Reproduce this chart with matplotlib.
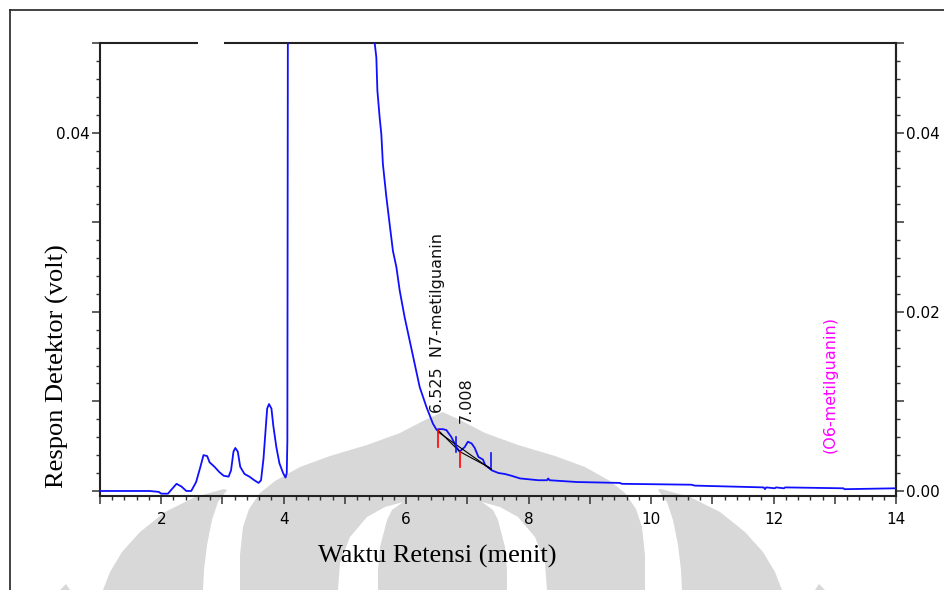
import matplotlib
matplotlib.use('Agg')
import matplotlib.pyplot as plt
from matplotlib.patches import Polygon
from matplotlib.lines import Line2D
from matplotlib.ticker import MultipleLocator, FixedLocator, FuncFormatter

# Chromatogram trace (retention time in minutes, detector response in volts)
time_min = [1.00, 1.81, 1.96, 2.00, 2.11, 2.16, 2.25, 2.33, 2.41, 2.49,
            2.57, 2.64, 2.69, 2.75, 2.79, 2.87, 2.95, 3.02, 3.10, 3.14,
            3.18, 3.21, 3.25, 3.29, 3.36, 3.44, 3.52, 3.59, 3.63, 3.67,
            3.70, 3.73, 3.76, 3.80, 3.83, 3.88, 3.93, 3.99, 4.03, 4.05,
            4.06, 4.08, 4.60, 5.40, 5.486, 5.513, 5.53, 5.567, 5.595, 5.62,
            5.677, 5.73, 5.784, 5.84, 5.894, 5.975, 6.057, 6.139, 6.221, 6.33,
            6.438, 6.50, 6.525, 6.60, 6.657, 6.74, 6.82, 6.874, 6.956, 7.008,
            7.07, 7.12, 7.18, 7.255, 7.29, 7.40, 7.51, 7.61, 7.72, 7.86,
            8.16, 8.30, 8.32, 8.34, 8.79, 9.49, 9.52, 10.66, 10.71, 11.84,
            11.86, 11.88, 12.02, 12.04, 12.17, 12.19, 13.14, 13.16, 14.00]
response_v = [0.0000, 0.0000, -0.0001, -0.0003, -0.0003, 0.0001, 0.0008, 0.0005, 0.0000, 0.0000,
              0.0010, 0.0027, 0.0040, 0.0039, 0.0032, 0.0027, 0.0021, 0.0017, 0.0016, 0.0023,
              0.0044, 0.0048, 0.0044, 0.0027, 0.0019, 0.0016, 0.0012, 0.0009, 0.0012, 0.0036,
              0.0064, 0.0092, 0.0097, 0.0092, 0.0073, 0.0049, 0.0031, 0.0020, 0.0015, 0.0020,
              0.0056, 0.1200, 0.1600, 0.0800, 0.0500, 0.0484, 0.0447, 0.0417, 0.0398, 0.0365,
              0.0328, 0.0298, 0.0268, 0.0250, 0.0224, 0.0194, 0.0168, 0.0142, 0.0116, 0.0094,
              0.0075, 0.0068, 0.0069, 0.0069, 0.0068, 0.0060, 0.0049, 0.0044, 0.0049, 0.0055,
              0.0053, 0.0048, 0.0038, 0.0035, 0.0029, 0.0023, 0.0020, 0.0019, 0.0017, 0.0014,
              0.0012, 0.0012, 0.0014, 0.0012, 0.0010, 0.0009, 0.0008, 0.0007, 0.0006, 0.0004,
              0.0002, 0.0004, 0.0003, 0.0004, 0.0003, 0.0004, 0.0003, 0.0002, 0.0003]

# Integration marks
peak_labels = ['6.525  N7-metilguanin', '7.008']
peak_times = [6.525, 7.008]
red_marks_t = [6.52, 6.874]
red_marks_y = [(0.0049, 0.0068), (0.0027, 0.0044)]
blue_marks_t = [6.82, 7.39]
blue_marks_y = [(0.0044, 0.0060), (0.0027, 0.0042)]
baseline_t = [(6.52, 6.874), (6.874, 7.39), (6.52, 7.39)]
baseline_y = [(0.0068, 0.0044), (0.0044, 0.0025), (0.0066, 0.0024)]
o6_time = 12.92

W, H = 944, 590
fig = plt.figure(figsize=(W / 100, H / 100), dpi=100)
fig.patch.set_facecolor('white')


def px(points):
    return [(x / W, 1 - y / H) for x, y in points]


def mirror(points, xc=442.5):
    return [(2 * xc - x, y) for x, y in points]


# background watermark (light grey arches)
wm = '#d8d8d8'
dome_left = [(240, 590), (240, 555), (243, 527), (249, 509), (260, 493), (275, 481),
             (300, 467), (330, 456), (367, 445), (400, 433), (425, 420), (442.5, 412)]
dome = dome_left + mirror(dome_left)[::-1]
hole_left = [(338, 590), (340, 563), (350, 537), (367, 517), (385, 507), (403, 502),
             (392, 510), (387, 520), (380, 547), (378, 570), (378, 590)]
band_left = [(103, 590), (110, 572), (122, 552), (140, 532), (165, 512), (195, 497),
             (224, 489), (227, 490), (218, 502), (212, 520), (207, 545), (204, 570),
             (203, 590)]
tip_left = [(60, 590), (66, 584), (70, 590)]

for shape, col in [(dome, wm), (hole_left, 'white'), (mirror(hole_left), 'white'),
                   (band_left, wm), (mirror(band_left), wm),
                   (tip_left, wm), (mirror(tip_left), wm)]:
    fig.add_artist(Polygon(px(shape), closed=True, transform=fig.transFigure,
                           facecolor=col, edgecolor='none', zorder=-2))

# outer frame
fig.add_artist(Line2D([10 / W, 10 / W], [0, 1 - 10 / H], transform=fig.transFigure,
                      color='#222222', lw=1.2))
fig.add_artist(Line2D([10 / W, 1], [1 - 10 / H, 1 - 10 / H], transform=fig.transFigure,
                      color='#222222', lw=1.2))

ax = fig.add_axes([100 / W, 1 - 496 / H, 796 / W, 453 / H])
ax.set_facecolor('none')
ax.set_xlim(1, 14)
ax.set_ylim(-0.00056, 0.05)

ax.plot(time_min, response_v, color='#1010ff', lw=1.3, zorder=3)

for (t0, t1), (y0, y1) in zip(baseline_t, baseline_y):
    ax.plot([t0, t1], [y0, y1], color='black', lw=0.8, zorder=4)
for t, (y0, y1) in zip(red_marks_t, red_marks_y):
    ax.plot([t, t], [y0, y1], color='red', lw=1.2, zorder=5)
for t, (y0, y1) in zip(blue_marks_t, blue_marks_y):
    ax.plot([t, t], [y0, y1], color='#1010ff', lw=1.2, zorder=5)

ax.text(peak_times[0] - 0.01, 0.0087, peak_labels[0], rotation=90, ha='center',
        va='bottom', fontsize=11.5, color='#111111')
ax.text(peak_times[1] - 0.03, 0.0076, peak_labels[1], rotation=90, ha='center',
        va='bottom', fontsize=11.5, color='#111111')
ax.text(o6_time, 0.0042, '(O6-metilguanin)', rotation=90, ha='center',
        va='bottom', fontsize=11.5, color='#ff00ff')

# axes frame: top spine has a short break
spine_col = '#222222'
for side in ['left', 'right', 'bottom']:
    ax.spines[side].set_color(spine_col)
    ax.spines[side].set_linewidth(1.5)
ax.spines['top'].set_visible(False)
for xs in ([0, 0.123], [0.156, 1]):
    ax.plot(xs, [1, 1], transform=ax.transAxes, clip_on=False,
            color=spine_col, lw=1.5, solid_capstyle='butt')

ax.xaxis.set_major_locator(MultipleLocator(1))
ax.xaxis.set_minor_locator(MultipleLocator(0.2))
ax.xaxis.set_major_formatter(FuncFormatter(
    lambda v, p: f'{v:.0f}' if round(v) % 2 == 0 else ''))

yticks = [0.0, 0.01, 0.02, 0.03, 0.04, 0.05]
ax.yaxis.set_major_locator(FixedLocator(yticks))
ax.yaxis.set_minor_locator(MultipleLocator(0.002))
ax.yaxis.set_major_formatter(FuncFormatter(
    lambda v, p: '0.04' if abs(v - 0.04) < 1e-6 else ''))

right = ax.secondary_yaxis('right')
right.spines['right'].set_color(spine_col)
right.spines['right'].set_linewidth(1.5)
right.yaxis.set_major_locator(FixedLocator(yticks))
right.yaxis.set_minor_locator(MultipleLocator(0.002))
right.yaxis.set_major_formatter(FuncFormatter(
    lambda v, p: f'{v:.2f}' if round(v * 100) % 2 == 0 and v < 0.045 else ''))

for a in (ax, right):
    a.tick_params(which='major', direction='out', length=5.5, width=1.1,
                  color='#333333', labelsize=11, pad=2)
    a.tick_params(which='minor', direction='out', length=3, width=1.0,
                  color='#333333')
ax.tick_params(axis='x', which='major', pad=6)

fig.text(437 / W, 1 - 556 / H, 'Waktu Retensi (menit)', ha='center', va='center',
         family='Liberation Serif', fontsize=19)
fig.text(57 / W, 1 - 366 / H, 'Respon Detektor (volt)', ha='center', va='center',
         rotation=90, family='Liberation Serif', fontsize=19)

fig.savefig('out.png', dpi=100, facecolor='white')
